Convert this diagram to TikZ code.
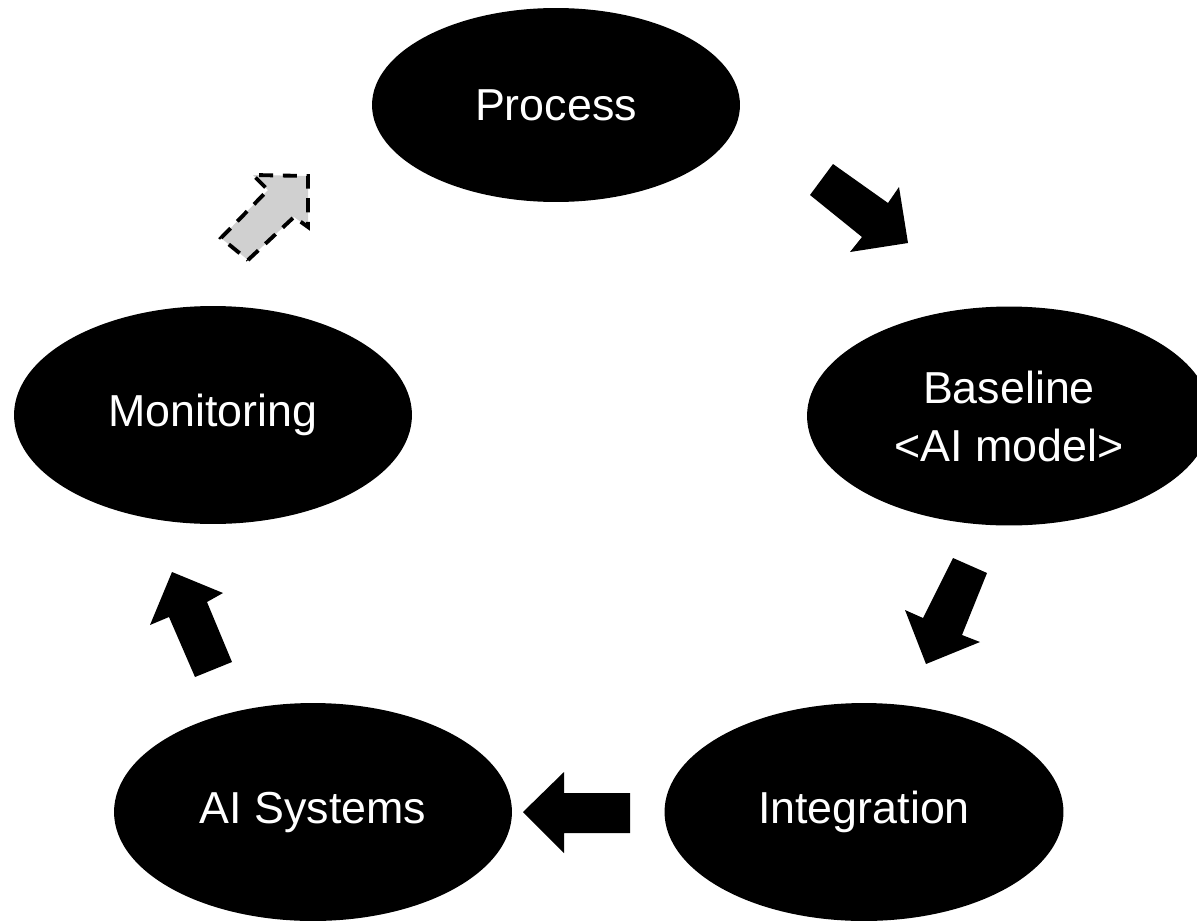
\documentclass[tikz,border=0pt]{standalone}
\usepackage{fontspec}
\setmainfont{Liberation Sans}
\usetikzlibrary{shapes.geometric}
\definecolor{arrowgray}{HTML}{D0D0D0}
\begin{document}
\begin{tikzpicture}[x=0.02cm,y=-0.02cm,
  stage/.style={ellipse, fill=black, text=white, inner sep=0pt, align=center,
    font=\fontsize{25.5}{33}\selectfont},
  blockarrow/.style={fill=black},
  pendingarrow/.style={fill=arrowgray, draw=black, line width=2.2pt,
    dash pattern=on 8pt off 5.5pt, line join=miter}]
\useasboundingbox (0,0) rectangle (1197,923);
\clip (0,0) rectangle (1197,923);

% stages
\node[stage, minimum width=7.36cm, minimum height=3.88cm] (process) at (556,105) {Process};
\node[stage, minimum width=8.08cm, minimum height=4.38cm] (baseline) at (1009,416) {Baseline\\<AI model>};
\node[stage, minimum width=7.98cm, minimum height=4.36cm] (integration) at (864,812) {Integration};
\node[stage, minimum width=7.96cm, minimum height=4.36cm] (aisystems) at (313,812) {AI Systems};
\node[stage, minimum width=7.96cm, minimum height=4.36cm] (monitoring) at (213,415) {Monitoring};

% block arrows
\fill[blockarrow] (833,164) -- (888,203) -- (899,187) -- (908,243) -- (850,252) -- (862,237) -- (810,195) -- cycle;
\fill[blockarrow] (987,573) -- (962,635) -- (980,642) -- (926,664) -- (905,610) -- (923,618) -- (953,558) -- cycle;
\fill[blockarrow] (630,793) -- (564,793) -- (564,772) -- (523,812) -- (564,853) -- (564,833) -- (630,833) -- cycle;
\fill[blockarrow] (232,662) -- (207,602) -- (223,593) -- (172,572) -- (150,625) -- (169,617) -- (195,677) -- cycle;

% pending (dashed) arrow
\filldraw[pendingarrow] (248,260) -- (294,217) -- (308,227) -- (308,176) -- (253,175) -- (268,190) -- (221,238) -- cycle;
\end{tikzpicture}
\end{document}
